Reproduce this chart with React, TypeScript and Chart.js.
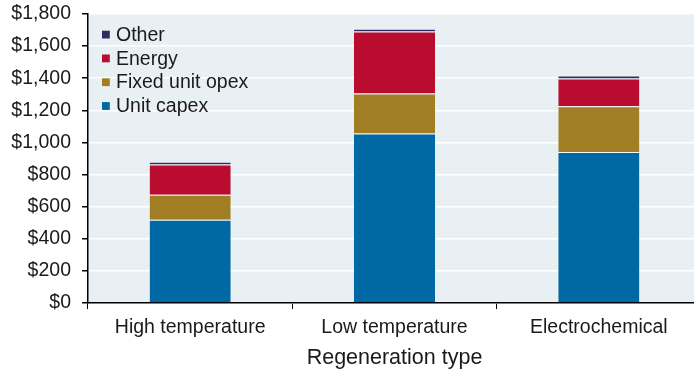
import React, { useEffect, useRef } from "react";
import { Chart, registerables } from "chart.js";

Chart.register(...registerables);

const categories = ["High temperature", "Low temperature", "Electrochemical"];
const unitCapex = [518, 1055, 941];
const fixedUnitOpex = [157, 250, 285];
const energy = [187, 386, 172];
const other = [17, 17, 19];
const yTicks = [0, 200, 400, 600, 800, 1000, 1200, 1400, 1600, 1800];
const axisTitle = "Regeneration type";

const FONT = "'Liberation Sans', Arial, Helvetica, sans-serif";
const TEXT = "#1a1a1a";

const bgPlugin = {
  id: "plotBg",
  beforeDraw(chart: any) {
    const { ctx, chartArea } = chart;
    ctx.save();
    ctx.fillStyle = "#E8F0F3";
    ctx.fillRect(chartArea.left, chartArea.top, chartArea.right - chartArea.left, chartArea.bottom - chartArea.top);
    ctx.restore();
  },
};

const legendPlugin = {
  id: "innerLegend",
  afterDraw(chart: any) {
    const { ctx, chartArea } = chart;
    const ds = chart.data.datasets.slice().reverse();
    ctx.save();
    ctx.font = `19.5px ${FONT}`;
    ctx.textBaseline = "middle";
    ctx.textAlign = "left";
    ds.forEach((d: any, i: number) => {
      const cy = chartArea.top + 20.5 + i * 23.8;
      const bx = chartArea.left + 14;
      ctx.fillStyle = d.backgroundColor;
      ctx.fillRect(bx, cy - 3.8, 7.8, 7.8);
      ctx.fillStyle = TEXT;
      ctx.fillText(d.label, bx + 14, cy + 1);
    });
    ctx.restore();
  },
};

export default function App() {
  const ref = useRef<HTMLCanvasElement | null>(null);
  useEffect(() => {
    document.body.style.margin = "0";
    const border = { top: 1, left: 0, right: 0, bottom: 0 };
    const bc = "rgba(255,255,255,0.7)";
    const mk = (label: string, data: number[], color: string) => ({
      label,
      data,
      backgroundColor: color,
      borderColor: bc,
      borderWidth: border,
      borderSkipped: false,
      barPercentage: 0.397,
      categoryPercentage: 1,
    });
    const chart = new Chart(ref.current as HTMLCanvasElement, {
      type: "bar",
      data: {
        labels: categories,
        datasets: [
          mk("Unit capex", unitCapex, "#0068A3"),
          mk("Fixed unit opex", fixedUnitOpex, "#A17E24"),
          mk("Energy", energy, "#BA0C2F"),
          mk("Other", other, "#2F2B63"),
        ],
      },
      options: {
        animation: false,
        responsive: false,
        devicePixelRatio: 1,
        layout: { padding: { left: 0, right: 0, top: 14, bottom: 0 } },
        plugins: { legend: { display: false }, tooltip: { enabled: false } },
        scales: {
          x: {
            stacked: true,
            afterFit(scale: any) {
              scale.height = 68;
              scale.paddingLeft = 0;
              scale.paddingRight = 0;
            },
            grid: {
              display: true,
              drawOnChartArea: false,
              drawTicks: true,
              tickLength: 6,
              tickColor: "#000",
              offset: true,
            },
            border: { display: true, color: "#000", width: 1.5 },
            ticks: { color: TEXT, font: { family: FONT, size: 19.5 }, padding: 7 },
            title: {
              display: true,
              text: axisTitle,
              color: TEXT,
              font: { family: FONT, size: 21.5 },
              padding: { top: 0, bottom: 0 },
            },
          },
          y: {
            stacked: true,
            min: 0,
            max: 1800,
            afterBuildTicks(scale: any) {
              scale.ticks = yTicks.map((v) => ({ value: v }));
            },
            afterFit(scale: any) {
              scale.width = 88;
              scale.paddingTop = 0;
              scale.paddingBottom = 0;
            },
            grid: {
              color: "#ffffff",
              lineWidth: 1.5,
              drawTicks: true,
              tickLength: 6,
              tickColor: "#000",
            },
            border: { display: true, color: "#000", width: 1.5 },
            ticks: {
              color: TEXT,
              font: { family: FONT, size: 19.5 },
              padding: 11,
              callback: (v: any) => "$" + Number(v).toLocaleString("en-US"),
            },
          },
        },
      },
      plugins: [bgPlugin, legendPlugin],
    } as any);
    return () => chart.destroy();
  }, []);
  return (
    <div style={{ width: 694, height: 371, overflow: "hidden" }}>
      <canvas ref={ref} width={701} height={371} style={{ display: "block" }} />
    </div>
  );
}
